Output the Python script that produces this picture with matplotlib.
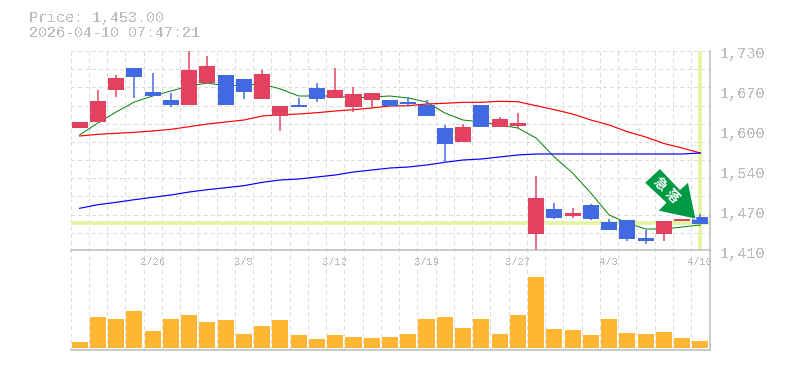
import matplotlib
matplotlib.use('Agg')
from matplotlib import pyplot as plt
from matplotlib.patches import Polygon

# ohlc
tops = [1616.4, 1650, 1686.8, 1702.8, 1664.4, 1651.6, 1699.6, 1706, 1691.6, 1685.2, 1693.2, 1642,
        1643.6, 1670.8, 1667.6, 1661.2, 1662.8, 1651.6, 1648.4, 1643.6, 1606.8, 1608.4, 1643.6, 1621.2,
        1614.8, 1494.8, 1477.2, 1470.8, 1483.6, 1456.4, 1459.6, 1430.8, 1458, 1461.2, 1464.4]
bottoms = [1606.8, 1616.4, 1667.6, 1688.4, 1658, 1643.6, 1643.6, 1678.8, 1643.6, 1664.4, 1653.2, 1626,
           1640.4, 1653.2, 1654.8, 1640.4, 1651.6, 1642, 1645.2, 1626, 1581.2, 1584.4, 1608.4, 1608.4,
           1610, 1437.2, 1462.8, 1466, 1461.2, 1443.6, 1429.2, 1426, 1437.2, 1458, 1453.2]
highs = [1616.4, 1667.6, 1691.6, 1702.8, 1694.8, 1662.8, 1730, 1722, 1691.6, 1685.2, 1699.6, 1642,
         1654.8, 1678.8, 1702.8, 1672.4, 1662.8, 1651.6, 1656.4, 1651.6, 1611.6, 1613.2, 1643.6, 1624.4,
         1630.8, 1530, 1486.8, 1478.8, 1485.2, 1461.2, 1459.6, 1443.6, 1458, 1461.2, 1469.2]
lows = [1606.8, 1616.4, 1656.4, 1654.8, 1658, 1640.4, 1643.6, 1677.2, 1643.6, 1653.2, 1653.2, 1602,
        1640.4, 1648.4, 1654.8, 1632.4, 1638.8, 1642, 1642, 1626, 1550.8, 1584.4, 1608.4, 1608.4,
        1606.8, 1410, 1461.2, 1462.8, 1459.6, 1443.6, 1426, 1421.2, 1426, 1458, 1453.2]
# r = falling day, b = rising day
candle_kind = list('rrrbbbrrbbrrbbrrrbbbbrbrrrbrbbbbrrb')

ma_short = [1595.6, 1614.8, 1632.4, 1648.4, 1658, 1666, 1674, 1678.8, 1674, 1675.6, 1677.2, 1669.2,
            1658, 1658, 1658, 1654.8, 1656.4, 1658, 1654.8, 1648.4, 1630.8, 1619.6, 1616.4, 1611.6,
            1606.8, 1590.8, 1560.4, 1534.8, 1502.8, 1467.6, 1454.8, 1445.2, 1445.2, 1448.4, 1451.6]
ma_mid = [1594, 1596.7, 1598.3, 1599.9, 1602, 1604.7, 1608.9, 1613.2, 1616.4, 1619.6, 1626, 1628.1,
          1629.2, 1631.3, 1634, 1636.1, 1638.8, 1642, 1642.5, 1645.2, 1646.3, 1647.9, 1647.9, 1649.5,
          1648.9, 1642.5, 1636.1, 1629.2, 1619.6, 1611.6, 1600.9, 1592.4, 1582, 1574.8, 1566.8]
ma_long = [1478.3, 1484.1, 1487.9, 1492.1, 1495.9, 1499.6, 1504.4, 1508.1, 1511.3, 1514.5, 1519.9, 1523.6,
           1525.2, 1528.4, 1531.6, 1536.4, 1539.6, 1542.8, 1544.4, 1547.6, 1551.9, 1555.6, 1557.2, 1560.4,
           1563.6, 1565.2, 1565.2, 1565.2, 1565.2, 1565.2, 1565.2, 1565.2, 1565.2, 1565.2, 1566.8]

volumes = [6, 31, 29, 37, 17, 29, 33, 26, 28, 14, 22, 28, 13, 9, 13, 11, 10, 11,
           14, 29, 31, 20, 29, 14, 33, 71, 19, 18, 13, 29, 15, 14, 16, 10, 7]

date_labels = ['2/26', '3/5', '3/12', '3/19', '3/27', '4/3', '4/10']
date_index = [4, 9, 14, 19, 24, 29, 34]
# evenly spaced ticks, printed rounded to tens
price_ticks = [1730, 1666, 1602, 1538, 1474, 1410]
price_line = 1454.5
last_day = 34

W, H = 785, 370
GRAY = '#bbbbbb'
GRID = '#dddddd'
HILITE = '#e2f4a0'
RED = '#e2425f'
BLUE = '#4169e1'
ORANGE = '#ffb733'
ARROW = '#009944'
MONO = 'Liberation Mono'
px = 0.72  # one pixel in points at dpi 100

plt.rcParams['font.family'] = [MONO, 'DejaVu Sans']
plt.rcParams['text.antialiased'] = False

fig = plt.figure(figsize=[W / 100, H / 100], dpi=100)
ax = fig.add_axes([70.5 / W, 1 - 251 / H, 639 / W, 200 / H])
vol = fig.add_axes([70.5 / W, 1 - 350 / H, 639 / W, 100 / H])
days = list(range(len(tops)))
grid_kw = dict(color=GRID, lw=1.4 * px, ls=(0, (2.2, 2.2)), zorder=0, antialiased=False)


def style_axes(a):
    a.set_xlim(-0.5, len(tops) - 0.5)
    a.set_xticks([d - 0.5 for d in days] + [len(tops) - 0.5])
    a.tick_params(length=0, labelbottom=False, labelleft=False)
    a.grid(True, axis='x', **grid_kw)
    a.set_axisbelow(True)
    for side in ['left', 'top']:
        a.spines[side].set_visible(False)
    for side in ['right', 'bottom']:
        a.spines[side].set_color(GRAY)
        a.spines[side].set_linewidth(1.5 * px)


# price pane
style_axes(ax)
ax.set_ylim(1410, 1730)
ax.set_yticks([1410 + (1730 - 1410) * k / 11 for k in range(12)])
ax.grid(True, axis='y', **grid_kw)
ax.axhline(price_line, color=HILITE, lw=3.6 * px, zorder=1)
ax.axvline(last_day, ymin=0.015, color=HILITE, lw=3.6 * px, zorder=1)

ax.plot(days, ma_short, color='green', lw=0.7, zorder=2)
ax.plot(days, ma_mid, color='red', lw=0.85, zorder=2)
ax.plot(days, ma_long, color='blue', lw=0.85, zorder=2)

colors = [RED if k == 'r' else BLUE for k in candle_kind]
ax.vlines(days, lows, highs, colors=colors, lw=1.5 * px, zorder=3)
ax.bar(days, [t - b for t, b in zip(tops, bottoms)], bottom=bottoms, width=0.88, color=colors, zorder=3)

# volume pane
style_axes(vol)
vol.set_ylim(-2, 98)
vol.set_yticks([])
vol.bar(days, volumes, width=0.88, color=ORANGE, zorder=3)
vol.spines['top'].set_visible(True)
vol.spines['top'].set_color(GRAY)
vol.spines['top'].set_linewidth(1.5 * px)

for lab, d in zip(date_labels, date_index):
    vol.annotate(lab, xy=(d, 1), xycoords=('data', 'axes fraction'), xytext=(0, -12), textcoords='offset pixels',
                 ha='center', va='center', fontsize=7.6, color=GRAY, zorder=5)

for t in price_ticks:
    ax.annotate(f'{round(t, -1):,}', xy=(1, t), xycoords=('axes fraction', 'data'), xytext=(10, -3),
                textcoords='offset pixels', ha='left', va='center', fontsize=11, color=GRAY, annotation_clip=False)

fig.text(29 / W, 1 - 18 / H, 'Price: 1,453.00', fontsize=10.8, color=GRAY, va='center', ha='left')
fig.text(29 / W, 1 - 33 / H, '2026-04-10 07:47:21', fontsize=10.8, color=GRAY, va='center', ha='left')

# green sticker arrow, in pixels of the figure
outline = [(644.3, 182.7), (660, 168.3), (680, 189.3), (688.3, 181.7), (696, 219.3), (657.7, 211), (665.7, 202.7)]
fig.add_artist(Polygon([(x / W, 1 - y / H) for x, y in outline], closed=True, transform=fig.transFigure,
                       facecolor=ARROW, edgecolor='white', lw=0.8, zorder=6))
for ch, x, y in [('急', 660, 184), ('落', 672.3, 196)]:
    t = fig.text(x / W, 1 - y / H, ch, family=['Noto Sans CJK JP', 'DejaVu Sans'], fontsize=9.5, fontweight='bold',
                 color='white', rotation=-45, ha='center', va='center', zorder=7)
    t.set_antialiased(True)

fig.savefig('out.png', dpi=100)
